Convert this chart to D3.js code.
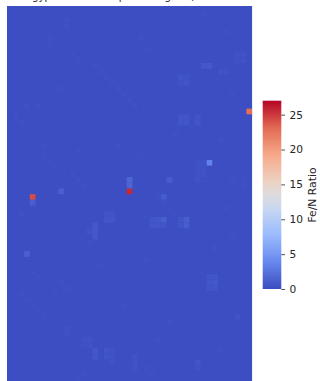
<!DOCTYPE html>
<html><head><meta charset="utf-8">
<script src="https://cdnjs.cloudflare.com/ajax/libs/d3/7.8.5/d3.min.js"></script>
<style>html,body{margin:0;padding:0;background:#fff;overflow:hidden}svg{display:block;font-family:"DejaVu Sans",sans-serif}</style>
</head><body><script>
const titleText = "Egyp Control Group - Average Fe/N Ratio";
const colorbarLabel = "Fe/N Ratio";
const tickValues = [0,5,10,15,20,25];
const nCols = 43, nRows = 67, baseValue = 0.12, maxValue = 27;
const rampStops = [0,1/7,2/7,3/7,0.5,4/7,5/7,6/7,1];
const rampColors = ["#3b4cc0","#6788ee","#9abbff","#c9d7f0","#dddcdc","#edd1c2","#f7a889","#e26952","#b40426"];
// notable cells
const cellCols = [4,21,42,35, 4,21,21, 9,3, 15,15,15,14,17,18,17,18, 25,26,27,25,26,27, 30,31,30,31, 28,27,
 33,34,33,34,33,34,33, 34,35,30,31,30,31,30,31,30,31,33,33,37,38,40,41,40,41,10,10,
 15,15,17,18,17,18,18,13,14,13,14,10,11,10,35,36,35,36,35,36,22,22,22,33,33,40,
 7,7,3,5,11,12,6,19,23,24,38,39,2,12,16,36,37,39,20,8,28,9,24,26,4,5,38,
 1,2,15,16,17,18,19,20,21,22,32,29,6,7,8,11,12,13,14,26,27,28,29,2,3,4,5,6,24,25,41,41,39,22,23,37,34,9,10,12,13];
const cellRows = [33,32,18,27,34,30,31,32,43,38,39,40,39,36,36,37,37,37,37,37,38,38,38,37,37,38,38,30,33,
 27,27,28,28,29,29,30,10,10,12,12,13,13,19,19,20,20,19,20,11,11,8,8,9,9,2,3,
 60,61,60,60,61,61,62,58,58,59,59,56,56,57,47,47,48,48,49,49,61,62,63,62,63,54,
 5,6,17,17,8,9,24,24,5,7,4,15,36,25,45,42,23,30,52,50,55,14,44,58,46,47,35,
 19,20,10,11,12,13,14,15,16,17,21,22,26,27,28,29,30,31,41,33,34,35,36,50,51,52,53,54,63,64,30,31,40,25,26,60,1,48,49,65,64];
const cellValues = [24.2,25.6,22.8,3.4,1.2,1.7,1.6,1.2,1.3,.8,.8,.7,.5,.55,.6,.65,.65,.6,.7,1.2,.65,.7,.6,.6,1.2,.6,1.1,1.0,1.0,
 .4,.45,.4,.4,.35,.4,.45,.8,.8,.55,.45,.45,.55,.65,.6,.6,.65,.55,.6,.45,.4,.4,.45,.35,.4,.35,.35,
 .75,.7,.55,.45,.55,.45,.45,.4,.4,.35,.4,.35,.3,.35,.6,.65,.65,.75,.6,.55,.45,.45,.4,.55,.45,.4,
 .3,.3,.35,.3,.3,.3,.25,.3,.3,.3,.3,.3,.35,.3,.3,.35,.3,.3,.3,.25,.3,.3,.25,.3,.25,.25,.3,
 .25,.3,.25,.25,.3,.25,.3,.25,.25,.3,.25,.3,.25,.25,.3,.25,.25,.3,.3,.25,.3,.25,.25,.25,.3,.25,.25,.3,.3,.25,.25,.3,.25,.25,.3,.3,.25,.25,.3,.25,.3];

const W=320,H=381;
const plotLeft=7,plotTop=6,cell=5.7;
const svg=d3.select("body").append("svg").attr("width",W).attr("height",H);
const color=d3.scaleLinear().domain(rampStops.map(d=>d*maxValue)).range(rampColors);
const x=d3.scaleBand().domain(d3.range(nCols)).range([plotLeft,plotLeft+nCols*cell]);
const y=d3.scaleBand().domain(d3.range(nRows)).range([plotTop,plotTop+nRows*cell]);

svg.append("text").attr("x",129).attr("y",-0.3).attr("text-anchor","middle").attr("font-size",10.2).attr("fill","#262626").text(titleText);

svg.append("rect").attr("x",plotLeft).attr("y",plotTop).attr("width",nCols*cell).attr("height",nRows*cell).attr("fill",color(baseValue));
svg.append("g").selectAll("rect").data(cellValues).join("rect")
  .attr("x",(d,i)=>x(cellCols[i])).attr("y",(d,i)=>y(cellRows[i]))
  .attr("width",x.bandwidth()).attr("height",y.bandwidth()).attr("fill",d=>color(d));

// colorbar
const cbY=d3.scaleLinear().domain([0,maxValue]).range([289,100.7]);
const cbX=262.7,cbW=18.6;
const defs=svg.append("defs");
const grad=defs.append("linearGradient").attr("id","cb").attr("x1",0).attr("x2",0).attr("y1",1).attr("y2",0);
grad.selectAll("stop").data(rampStops).join("stop").attr("offset",d=>d).attr("stop-color",(d,i)=>rampColors[i]);
svg.append("rect").attr("x",cbX).attr("y",cbY(maxValue)).attr("width",cbW).attr("height",cbY(0)-cbY(maxValue)).attr("fill","url(#cb)");
const axis=d3.axisRight(cbY).tickValues(tickValues).tickSize(3.7).tickPadding(4.6);
const g=svg.append("g").attr("transform",`translate(${cbX+cbW},0)`).call(axis);
g.select(".domain").remove();
g.selectAll("line").attr("stroke","#262626").attr("stroke-width",0.8);
g.selectAll("text").attr("font-size",10.6).attr("font-family",'"DejaVu Sans",sans-serif').attr("fill","#262626");
svg.append("text").attr("transform","translate(316,195) rotate(-90)").attr("text-anchor","middle").attr("font-size",10.8).attr("fill","#262626").text(colorbarLabel);
</script></body></html>
